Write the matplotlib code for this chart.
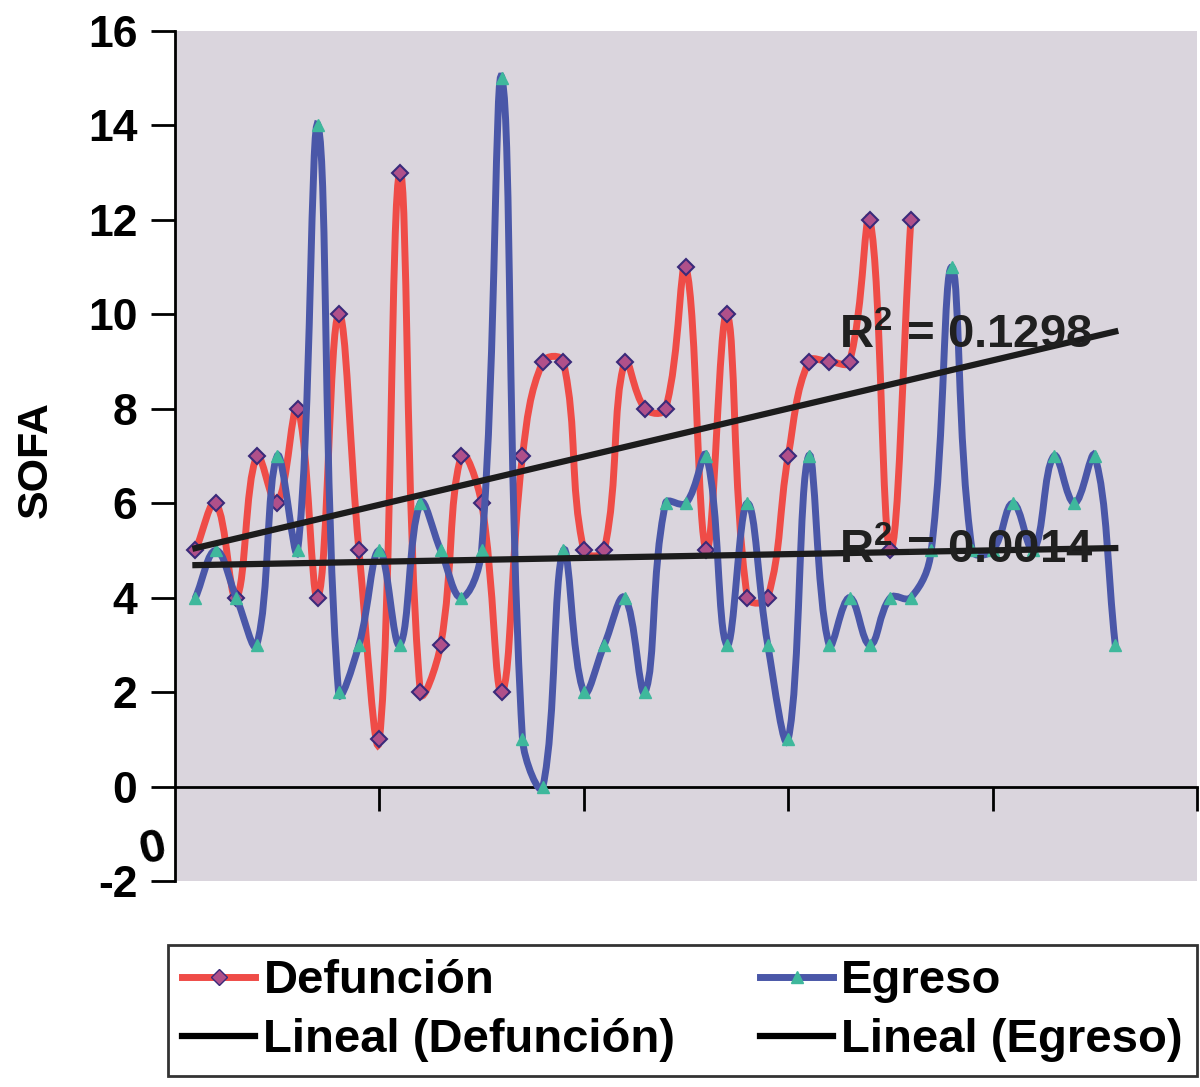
import matplotlib
matplotlib.use('Agg')
import matplotlib.pyplot as plt
from matplotlib.path import Path
from matplotlib.patches import PathPatch
from matplotlib.lines import Line2D
import numpy as np

plt.rcParams['font.family'] = ['Liberation Sans', 'DejaVu Sans']
plt.rcParams['font.weight'] = 'bold'
plt.rcParams['mathtext.fontset'] = 'custom'
plt.rcParams['mathtext.bf'] = 'Liberation Sans:bold'

# SOFA values, one per patient (x = 1, 2, ...)
defuncion = [5, 6, 4, 7, 6, 8, 4, 10, 5, 1, 13, 2, 3, 7, 6, 2, 7, 9, 9, 5,
             5, 9, 8, 8, 11, 5, 10, 4, 4, 7, 9, 9, 9, 12, 5, 12]
egreso = [4, 5, 4, 3, 7, 5, 14, 2, 3, 5, 3, 6, 5, 4, 5, 15, 1, 0, 5, 2,
          3, 4, 2, 6, 6, 7, 3, 6, 3, 1, 7, 3, 4, 3, 4, 4, 5, 11, 5, 5,
          6, 5, 7, 6, 7, 3]
r2_values = ['0.1298', '0.0014']
y_ticks = list(range(-2, 17, 2))
x_ticks = [10, 20, 30, 40, 50]

RED = '#ef4c47'
BLUE = '#4a57a8'

# approx pixels per data unit, used so the smoothing behaves like in screen space
SX, SY = 20.44, 47.2


def smooth_path(xs, ys, t=0.4):
    """Excel-like smoothed line: bezier with chord-length weighted handles"""
    pts = np.column_stack([np.asarray(xs) * SX, np.asarray(ys) * SY]).astype(float)
    n = len(pts)
    before = np.zeros_like(pts)
    after = np.zeros_like(pts)
    for i in range(n):
        p0 = pts[i - 1] if i > 0 else pts[i]
        p2 = pts[i + 1] if i < n - 1 else pts[i]
        d01 = np.hypot(*(pts[i] - p0))
        d12 = np.hypot(*(p2 - pts[i]))
        tot = d01 + d12 if d01 + d12 > 0 else 1.0
        before[i] = pts[i] - t * d01 / tot * (p2 - p0)
        after[i] = pts[i] + t * d12 / tot * (p2 - p0)
    verts = [pts[0]]
    codes = [Path.MOVETO]
    for i in range(n - 1):
        verts += [after[i], before[i + 1], pts[i + 1]]
        codes += [Path.CURVE4] * 3
    verts = np.array(verts) / np.array([SX, SY])
    return Path(verts, codes)


fig = plt.figure(figsize=(12, 10.87), dpi=100)
ax = fig.add_axes([175 / 1200, 1 - 881 / 1087, 1022 / 1200, 850 / 1087])
ax.set_xlim(0, 50)
ax.set_ylim(-2, 16)
ax.set_facecolor('#dad5dd')

x_def = np.arange(1, len(defuncion) + 1)
x_egr = np.arange(1, len(egreso) + 1)

ax.add_patch(PathPatch(smooth_path(x_def, defuncion), fill=False,
                       edgecolor=RED, lw=5, capstyle='round', zorder=3))
ax.plot(x_def, defuncion, ls='none', marker='D', ms=8,
        mfc='#b0508a', mec='#3a2a7a', mew=1.5, zorder=4)
ax.add_patch(PathPatch(smooth_path(x_egr, egreso), fill=False,
                       edgecolor=BLUE, lw=5, capstyle='round', zorder=5))
ax.plot(x_egr, egreso, ls='none', marker='^', ms=9,
        mfc='#3fb89c', mec='#3fb89c', zorder=6)

# linear trendlines over the whole category range
x_trend = np.array([1, len(egreso)])
for xs, ys in [(x_def, defuncion), (x_egr, egreso)]:
    k, b = np.polyfit(xs, ys, 1)
    ax.plot(x_trend, k * x_trend + b, color='#1c1c1c', lw=4.5, zorder=7)

for yv, val in zip([9.55, 5.0], r2_values):
    ax.text(32.5, yv, r'R$\mathbf{^{2}}$ = ' + val, fontsize=34, fontweight='bold',
            color='#202020', va='center', ha='left', zorder=8)

# axes styling
for s in ['top', 'right']:
    ax.spines[s].set_visible(False)
ax.spines['left'].set_linewidth(2)
ax.spines['bottom'].set_position(('data', 0))
ax.spines['bottom'].set_linewidth(2)
ax.set_xticks(x_ticks)
ax.set_xticklabels([])
ax.set_yticks(y_ticks)
ax.set_yticklabels([str(v) for v in y_ticks], fontsize=32, fontweight='bold')
ax.tick_params(axis='both', direction='out', length=17, width=2, color='black')
ax.tick_params(axis='y', pad=10)

fig.text(153 / 1200, 1 - 850 / 1087, '0', fontsize=34, fontweight='bold',
         rotation=12, ha='center', va='center')
fig.text(36 / 1200, 1 - 460 / 1087, 'SOFA', fontsize=31, fontweight='bold',
         rotation=90, ha='center', va='center')

handles = [
    Line2D([], [], color=RED, lw=5, marker='D', ms=8, mfc='#b0508a', mec='#3a2a7a'),
    Line2D([], [], color='black', lw=4.5),
    Line2D([], [], color=BLUE, lw=5, marker='^', ms=9, mfc='#3fb89c', mec='#3fb89c'),
    Line2D([], [], color='black', lw=4.5),
]
labels = ['Defunción', 'Lineal (Defunción)', 'Egreso', 'Lineal (Egreso)']
leg = fig.legend(handles, labels, ncol=2, loc='upper left',
                 bbox_to_anchor=(168 / 1200, 0, 1029 / 1200, 1 - 945 / 1087),
                 mode='expand', borderaxespad=0,
                 frameon=True, fancybox=False, edgecolor='black',
                 handlelength=1.55, handletextpad=0.17, columnspacing=0.35,
                 borderpad=0.3, labelspacing=0.32,
                 prop={'weight': 'bold', 'size': 34})
leg.get_frame().set_linewidth(2)

plt.savefig('out.png', dpi=100)
